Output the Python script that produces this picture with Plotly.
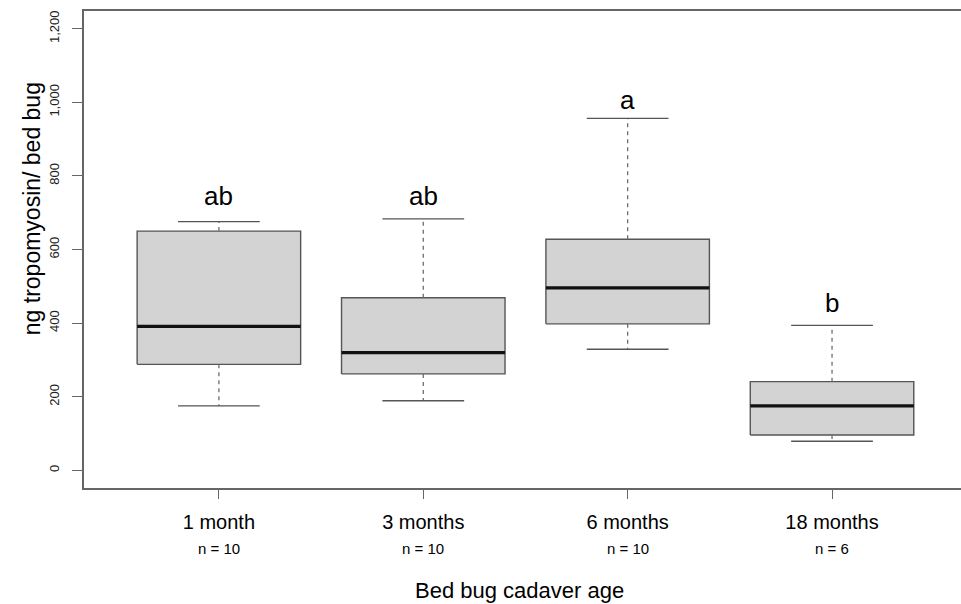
import plotly.graph_objects as go

# ---- data ----
categories = ["1 month", "3 months", "6 months", "18 months"]
n_labels = ["n = 10", "n = 10", "n = 10", "n = 6"]
lower_whisker = [175, 189, 329, 79]
q1 = [288, 262, 398, 96]
median = [391, 320, 496, 175]
q3 = [650, 469, 628, 241]
upper_whisker = [676, 683, 956, 394]
letters = ["ab", "ab", "a", "b"]
letter_y = [745, 745, 1005, 455]
y_ticks = [0, 200, 400, 600, 800, 1000, 1200]
y_ticktext = ["0", "200", "400", "600", "800", "1,000", "1,200"]

positions = list(range(1, len(categories) + 1))
BOX_HALF = 0.4
CAP_HALF = 0.2
FONT = "Liberation Sans, Arial, Helvetica, sans-serif"

fig = go.Figure()

# boxes
bx, by = [], []
for p, a, b in zip(positions, q1, q3):
    bx += [p - BOX_HALF, p + BOX_HALF, p + BOX_HALF, p - BOX_HALF, p - BOX_HALF, None]
    by += [a, a, b, b, a, None]
fig.add_trace(go.Scatter(x=bx, y=by, mode="lines", fill="toself",
                         fillcolor="#d3d3d3", line=dict(color="#555555", width=1.4),
                         hoverinfo="skip", showlegend=False))

# dashed whiskers
wx, wy = [], []
for p, lo, a, b, hi in zip(positions, lower_whisker, q1, q3, upper_whisker):
    wx += [p, p, None, p, p, None]
    wy += [b, hi, None, a, lo, None]
fig.add_trace(go.Scatter(x=wx, y=wy, mode="lines",
                         line=dict(color="#6e6e6e", width=1.3, dash="4px,4px"),
                         hoverinfo="skip", showlegend=False))

# caps
cx, cy = [], []
for p, lo, hi in zip(positions, lower_whisker, upper_whisker):
    cx += [p - CAP_HALF, p + CAP_HALF, None, p - CAP_HALF, p + CAP_HALF, None]
    cy += [hi, hi, None, lo, lo, None]
fig.add_trace(go.Scatter(x=cx, y=cy, mode="lines",
                         line=dict(color="#555555", width=1.3),
                         hoverinfo="skip", showlegend=False))

# medians
mx, my = [], []
for p, m in zip(positions, median):
    mx += [p - BOX_HALF, p + BOX_HALF, None]
    my += [m, m, None]
fig.add_trace(go.Scatter(x=mx, y=my, mode="lines",
                         line=dict(color="#111111", width=3.2),
                         hoverinfo="skip", showlegend=False))

annotations = []
for p, t, ly in zip(positions, letters, letter_y):
    annotations.append(dict(x=p, y=ly, xref="x", yref="y", text=t, showarrow=False,
                            font=dict(size=26, color="black", family=FONT),
                            xanchor="center", yanchor="middle"))
for p, t in zip(positions, n_labels):
    annotations.append(dict(x=p, y=-0.126, xref="x", yref="paper", text=t, showarrow=False,
                            font=dict(size=15, color="black", family=FONT),
                            xanchor="center", yanchor="middle"))
annotations.append(dict(x=2.47, y=-0.215, xref="x", yref="paper", text="Bed bug cadaver age",
                        showarrow=False, font=dict(size=22, color="black", family=FONT),
                        xanchor="center", yanchor="middle"))
annotations.append(dict(x=-0.059, y=0.585, xref="paper", yref="paper",
                        text="ng tropomyosin/ bed bug", textangle=-90, showarrow=False,
                        font=dict(size=23, color="black", family=FONT),
                        xanchor="center", yanchor="middle"))

fig.update_layout(
    width=961, height=604,
    margin=dict(l=84, r=0, t=11, b=116),
    paper_bgcolor="white", plot_bgcolor="white",
    font=dict(family=FONT, color="black"),
    showlegend=False,
    annotations=annotations,
    xaxis=dict(range=[0.34, 4.631], tickmode="array", tickvals=positions, ticktext=categories,
               ticks="outside", ticklen=9, tickcolor="#666666", tickwidth=1,
               tickfont=dict(size=20, color="black", family=FONT),
               ticklabelstandoff=6,
               showline=True, mirror=True, linecolor="#666666", linewidth=1.5,
               showgrid=False, zeroline=False, fixedrange=True),
    yaxis=dict(range=[-48, 1248], tickmode="array", tickvals=y_ticks, ticktext=y_ticktext,
               tickangle=-90, ticks="outside", ticklen=10, tickcolor="#666666", tickwidth=1,
               tickfont=dict(size=13, color="#222222", family=FONT),
               ticklabelstandoff=8,
               showline=True, mirror=False, linecolor="#666666", linewidth=1.5,
               showgrid=False, zeroline=False, fixedrange=True),
)

fig.write_html("out.html", config={"displayModeBar": False},
               post_script="document.body.style.margin='0';document.body.style.overflow='hidden';")
